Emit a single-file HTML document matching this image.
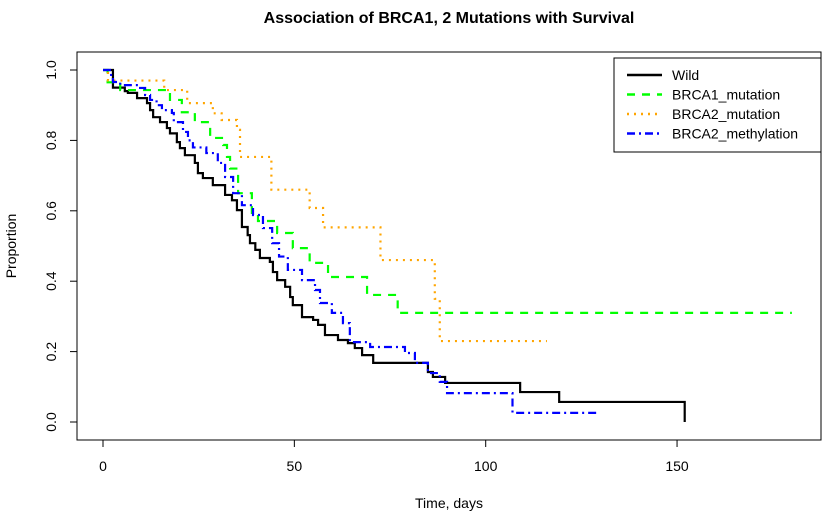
<!DOCTYPE html>
<html><head><meta charset="utf-8"><style>
body{margin:0;background:#fff}
svg{display:block;font-family:"Liberation Sans",Arial,sans-serif}
</style></head><body>
<svg id="c" width="827" height="525" xmlns="http://www.w3.org/2000/svg">
<rect width="827" height="525" fill="#fff"/>
<text x="449" y="23" text-anchor="middle" font-size="16" font-weight="bold">Association of BRCA1, 2 Mutations with Survival</text>
<rect x="77" y="52" width="744" height="388" fill="none" stroke="#000"/>
<g id="axes"></g>
<g id="series"></g>
<text x="449" y="508" text-anchor="middle" font-size="14">Time, days</text>
<text transform="translate(16,246) rotate(-90)" text-anchor="middle" font-size="14">Proportion</text>
<g>
<rect x="614" y="58" width="207" height="94" fill="#fff" stroke="#000"/>
<g id="legend"></g>
</g>
</svg>
<script>
const xTicks=[0,50,100,150];
const yTicks=[0,0.2,0.4,0.6,0.8,1.0];
const yTickLabels=["0.0","0.2","0.4","0.6","0.8","1.0"];
const seriesNames=["Wild","BRCA1_mutation","BRCA2_mutation","BRCA2_methylation"];
const wildT=[0,2.6,5.7,6.5,8.9,11.5,12.3,13.1,14.9,16.7,17.5,19.3,20.1,21.4,24,24.8,26.1,28.7,31.9,33.7,35,36.3,37.8,38.4,39.8,41,43.6,44.4,45.5,47.6,48.9,49.6,52,54.9,56.2,58,61.4,64,65.8,67.7,70.6,84.9,86.2,89.4,109,119.2,152];
const wildS=[1,0.95,0.94,0.935,0.92,0.906,0.886,0.866,0.852,0.835,0.82,0.795,0.778,0.758,0.736,0.707,0.693,0.673,0.645,0.63,0.602,0.554,0.531,0.508,0.489,0.466,0.455,0.426,0.403,0.384,0.355,0.332,0.298,0.29,0.276,0.247,0.233,0.224,0.21,0.19,0.168,0.142,0.128,0.111,0.085,0.057,0];
const brca1T=[0,1.2,4.5,17.5,20.6,24,28,31.4,32.4,33.2,35.3,38.9,40.5,45.5,49.6,54,58.8,69,77,180];
const brca1S=[1,0.965,0.943,0.915,0.88,0.852,0.807,0.787,0.753,0.72,0.65,0.594,0.571,0.537,0.494,0.452,0.412,0.361,0.31,0.31];
const brca2T=[0,1.3,16,22,28.7,31,35,35.8,44,54,57.5,72.5,86.7,88,116];
const brca2S=[1,0.97,0.943,0.906,0.877,0.858,0.83,0.753,0.66,0.608,0.553,0.46,0.35,0.23,0.23];
const methT=[0,1.8,2.6,4.5,9.7,11,12.3,14,15.4,18,18.5,20.9,22.2,23.5,27,30,31.9,34,36.3,39.2,41.8,44.2,46,48.3,52,55.4,56.7,59.8,62.7,64.5,69.8,78.9,81.5,84.9,88,89.9,107,129];
const methS=[1,0.986,0.966,0.957,0.949,0.929,0.915,0.9,0.886,0.878,0.852,0.824,0.8,0.78,0.764,0.736,0.696,0.65,0.616,0.588,0.551,0.508,0.47,0.432,0.403,0.375,0.338,0.31,0.281,0.227,0.213,0.196,0.168,0.139,0.114,0.082,0.026,0.026];
const styles=[{c:"#000",d:""},{c:"#00ff00",d:"8,7"},{c:"#ffa500",d:"2,5"},{c:"#0000ff",d:"8,4,2,4"}];
const X=t=>103+t*3.827, Y=s=>422-s*352;
const NS="http://www.w3.org/2000/svg";
function mk(tag,attrs,parent){const e=document.createElementNS(NS,tag);for(const k in attrs)e.setAttribute(k,attrs[k]);parent.appendChild(e);return e;}
const ax=document.getElementById('axes');
mk('line',{x1:X(0),x2:X(150),y1:440,y2:440,stroke:'#000'},ax);
xTicks.forEach(t=>{
 const l=mk('line',{x1:X(t),x2:X(t),y1:440,y2:447,stroke:'#000'},ax);
 
 
 const tx=mk('text',{x:X(t),y:471,'text-anchor':'middle','font-size':14},ax);tx.textContent=t;
 
 
});
yTicks.forEach((v,i)=>{
 const l=mk('line',{x1:70,x2:77,y1:Y(v),y2:Y(v),stroke:'#000'},ax);
 
 
 const tx=mk('text',{transform:`translate(56,${Y(v)}) rotate(-90)`,'text-anchor':'middle','font-size':14},ax);tx.textContent=yTickLabels[i];
 
 
});
const sg=document.getElementById('series');
[[wildT,wildS],[brca1T,brca1S],[brca2T,brca2S],[methT,methS]].forEach(([T,S],i)=>{
 let d=`M${X(T[0])},${Y(S[0])}`;
 for(let k=1;k<T.length;k++){d+=`H${X(T[k])}V${Y(S[k])}`;}
 const p=mk('path',{d:d,fill:'none',stroke:styles[i].c,'stroke-width':2.2,'stroke-dasharray':styles[i].d},sg);
 
 
});
const lg=document.getElementById('legend');
seriesNames.forEach((n,i)=>{
 const y=75+i*19.5;
 const l=mk('line',{x1:627,x2:662,y1:y,y2:y,stroke:styles[i].c,'stroke-width':2.5,'stroke-dasharray':styles[i].d},lg);
 
 
 const tx=mk('text',{x:672,y:y+5,'font-size':14},lg);tx.textContent=n;
 
 
});
</script>
</body></html>
